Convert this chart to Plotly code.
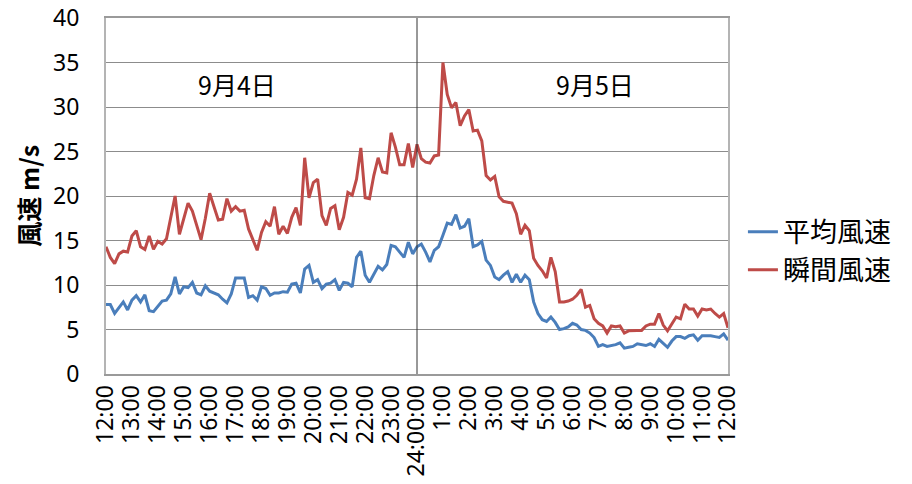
import pandas as pd
import plotly.graph_objects as go

# 10-minute observations, 9/4 12:00 -> 9/5 12:00
avg_speed = [
    7.8, 7.8, 6.8, 7.5, 8.1, 7.2, 8.3, 8.8, 8.1, 8.9, 7.1, 7.0, 7.6, 8.2, 8.3, 9.0, 10.9, 9.0,
    9.8, 9.7, 10.3, 9.1, 8.9, 9.9, 9.3, 9.1, 8.9, 8.4, 8.0, 9.0, 10.8, 10.8, 10.8, 8.6, 8.8, 8.3,
    9.8, 9.6, 8.85, 9.1, 9.1, 9.25, 9.2, 10.1, 10.2, 9.1, 11.8, 12.2, 10.3, 10.6, 9.6, 10.1, 10.2, 10.6,
    9.4, 10.3, 10.2, 9.8, 13.1, 13.8, 11.1, 10.3, 11.2, 12.1, 11.7, 12.3, 14.45, 14.3, 13.7, 13.1, 14.8, 13.5,
    14.3, 14.6, 13.7, 12.6, 13.9, 14.3, 15.6, 16.95, 16.8, 17.9, 16.4, 16.6, 17.45, 14.3, 14.5, 14.9, 12.8, 12.2,
    10.9, 10.6, 11.1, 11.5, 10.3, 11.2, 10.3, 11.1, 10.6, 8.1, 6.8, 6.1, 5.9, 6.4, 5.8, 5.0, 5.1, 5.3,
    5.7, 5.5, 5.0, 4.9, 4.6, 4.1, 3.1, 3.3, 3.1, 3.2, 3.3, 3.5, 2.9, 3.0, 3.1, 3.4, 3.3, 3.2,
    3.4, 3.1, 3.9, 3.5, 3.0, 3.7, 4.2, 4.2, 4.0, 4.3, 4.4, 3.8, 4.3, 4.3, 4.3, 4.2, 4.1, 4.5,
    3.8,
]
gust_speed = [
    14.3, 13.1, 12.4, 13.5, 13.8, 13.7, 15.5, 16.1, 14.3, 14.0, 15.5, 14.0, 14.9, 14.6, 15.2, 17.6, 20.0, 15.7,
    17.4, 19.2, 18.3, 16.6, 15.1, 17.5, 20.3, 18.8, 17.3, 17.4, 19.7, 18.3, 18.8, 18.3, 18.4, 16.3, 15.0, 13.9,
    15.9, 17.1, 16.6, 18.8, 15.7, 16.6, 15.8, 17.6, 18.7, 16.7, 24.3, 19.8, 21.5, 21.9, 17.8, 16.7, 18.6, 18.9,
    16.2, 17.6, 20.4, 20.1, 21.9, 25.4, 19.8, 19.7, 22.3, 24.3, 22.7, 22.6, 27.1, 25.5, 23.5, 23.5, 25.9, 23.2,
    25.8, 24.2, 23.8, 23.7, 24.5, 24.6, 35.0, 31.4, 29.9, 30.5, 27.9, 29.0, 29.7, 27.3, 27.4, 26.2, 22.3, 21.8,
    22.2, 19.9, 19.4, 19.3, 19.2, 18.0, 15.7, 16.7, 16.1, 13.0, 12.2, 11.6, 10.8, 13.1, 11.5, 8.1, 8.1, 8.2,
    8.4, 8.85, 9.5, 7.5, 7.7, 6.2, 5.7, 5.4, 4.6, 5.4, 5.3, 5.4, 4.6, 4.85, 4.9, 4.9, 4.9, 5.4,
    5.6, 5.6, 6.8, 5.5, 4.85, 5.7, 6.4, 6.2, 7.85, 7.3, 7.3, 6.5, 7.3, 7.2, 7.3, 6.8, 6.4, 6.8,
    5.2,
]
hour_labels = ["12:00", "13:00", "14:00", "15:00", "16:00", "17:00", "18:00", "19:00", "20:00",
               "21:00", "22:00", "23:00", "24:00:00", "1:00", "2:00", "3:00", "4:00", "5:00",
               "6:00", "7:00", "8:00", "9:00", "10:00", "11:00", "12:00"]
y_ticks = [0, 5, 10, 15, 20, 25, 30, 35, 40]
series_names = ["平均風速", "瞬間風速"]
day_labels = ["9月4日", "9月5日"]

times = pd.date_range("2000-09-04 12:00", periods=len(avg_speed), freq="10min")
hour_ticks = pd.date_range("2000-09-04 12:00", periods=len(hour_labels), freq="60min")
midnight = pd.Timestamp("2000-09-05 00:00")

num_font = "Noto Sans, Noto Sans CJK JP, sans-serif"
jp_font = "Noto Sans CJK JP, sans-serif"

fig = go.Figure()
fig.add_trace(go.Scatter(x=times, y=avg_speed, mode="lines", name=series_names[0],
                         line=dict(color="#4A7EBB", width=3), legendgroup="a"))
fig.add_trace(go.Scatter(x=times, y=gust_speed, mode="lines", name=series_names[1],
                         line=dict(color="#BE4B48", width=3), legendgroup="b"))

fig.add_shape(type="line", x0=midnight, x1=midnight, y0=0, y1=1, yref="paper",
              line=dict(color="#333333", width=1))

fig.add_annotation(x=pd.Timestamp("2000-09-04 17:03"), y=32.6, text=day_labels[0],
                   showarrow=False, font=dict(family=jp_font, size=25, color="#000000"))
fig.add_annotation(x=pd.Timestamp("2000-09-05 06:52"), y=32.6, text=day_labels[1],
                   showarrow=False, font=dict(family=jp_font, size=25, color="#000000"))

fig.add_annotation(xref="paper", yref="paper", x=-0.126, y=0.5, xanchor="center",
                   yanchor="middle", text="<b>風速 m/s</b>",
                   textangle=-90, showarrow=False,
                   font=dict(family=jp_font, size=25, color="#000000"))

fig.add_annotation(xref="paper", yref="paper", x=1.2425, y=-0.28, yanchor="top", text="8",
                   showarrow=False, font=dict(family=num_font, size=22, color="#8c8c8c"))

fig.update_layout(
    width=912, height=484,
    margin=dict(l=98, r=192, t=10, b=118, autoexpand=False),
    paper_bgcolor="white", plot_bgcolor="white",
    showlegend=True,
    legend=dict(x=1.024, y=0.345, xanchor="left", yanchor="middle",
                font=dict(family=jp_font, size=27, color="#000000"),
                itemwidth=30, traceorder="grouped", tracegroupgap=0,
                bgcolor="rgba(0,0,0,0)"),
    xaxis=dict(range=[times[0], times[-1]], tickvals=hour_ticks, ticktext=hour_labels,
               tickangle=-90, showgrid=False, zeroline=False, automargin=False,
               showline=True, linecolor="#9a9a9a", linewidth=2, mirror=True,
               ticklabeloverflow="allow",
               tickfont=dict(family=num_font, size=23, color="#000000")),
    yaxis=dict(range=[0, 40], tickmode="array", tickvals=y_ticks,
               ticktext=[str(v) for v in y_ticks],
               showgrid=True, gridcolor="#8c8c8c", gridwidth=1,
               zeroline=False, showline=True, linecolor="#b4b4b4", linewidth=2, mirror=True,
               ticklabelstandoff=20, automargin=False, ticklabeloverflow="allow",
               tickfont=dict(family=num_font, size=23, color="#000000")),
)

fig.write_html("out.html")
